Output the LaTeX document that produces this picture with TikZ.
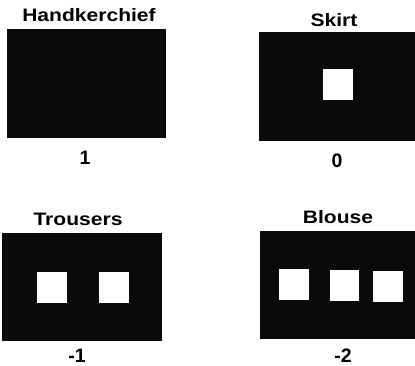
\documentclass[tikz,border=0pt]{standalone}
\usepackage{fontspec}
\setmainfont{Liberation Sans}
\definecolor{panel}{HTML}{0A0A0A}
\begin{document}
\begin{tikzpicture}[x=1pt,y=1pt,
  panelbox/.style={fill=panel,draw=none},
  hole/.style={fill=white,draw=none},
  lbl/.style={anchor=base,inner sep=0pt,font=\fontsize{18}{18}\selectfont\bfseries,xscale=1.17},
  num/.style={anchor=base,inner sep=0pt,font=\fontsize{19.5}{19.5}\selectfont\bfseries}]
\useasboundingbox (0,0) rectangle (415,366);
% Handkerchief
\fill[panelbox] (7,366-29) rectangle (166,366-138);
\node[lbl] (t1) at (89,366-22) {Handkerchief};
\node[num] (n1) at (85,366-165) {1};
% Skirt
\fill[panelbox] (259,366-32) rectangle (415,366-141);
\fill[hole] (323,366-69) rectangle (353,366-100);
\node[lbl] (t2) at (334,366-27) {Skirt};
\node[num] (n2) at (337,366-168) {0};
% Trousers
\fill[panelbox] (2,366-233) rectangle (162,366-341);
\fill[hole] (37,366-272) rectangle (67,366-303);
\fill[hole] (99,366-272) rectangle (129,366-303);
\node[lbl] (t3) at (78,366-226) {Trousers};
\node[num] (n3) at (77,366-362.5) {-1};
% Blouse
\fill[panelbox] (260,366-231) rectangle (415,366-339);
\fill[hole] (279,366-269) rectangle (309,366-300);
\fill[hole] (330,366-270) rectangle (359,366-301);
\fill[hole] (373,366-271) rectangle (403,366-302);
\node[lbl] (t4) at (338,366-224) {Blouse};
\node[num] (n4) at (343,366-362.5) {-2};
\end{tikzpicture}
\end{document}
